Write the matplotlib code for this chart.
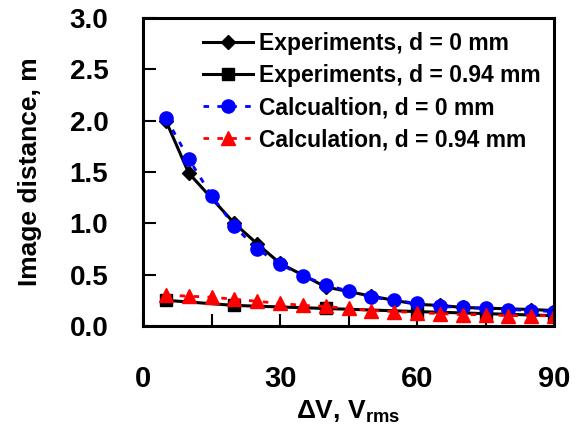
import matplotlib.pyplot as plt
from matplotlib.ticker import MultipleLocator

plt.rcParams['font.family'] = ['Liberation Sans', 'DejaVu Sans']
plt.rcParams['font.weight'] = 'bold'
plt.rcParams['mathtext.fontset'] = 'custom'
plt.rcParams['mathtext.rm'] = 'Liberation Sans:bold'
plt.rcParams['mathtext.bf'] = 'Liberation Sans:bold'

# Experiments, d = 0 mm
exp0_x = [5, 10, 20, 25, 30, 40, 50, 60, 65, 70, 85, 90]
exp0_y = [2.00, 1.49, 1.00, 0.80, 0.61, 0.38, 0.29, 0.21, 0.20, 0.18, 0.16, 0.15]

# Experiments, d = 0.94 mm
exp94_x = [5, 20, 40, 60, 75, 90]
exp94_y = [0.25, 0.20, 0.17, 0.14, 0.12, 0.10]

# Calculation, d = 0 mm
calc0_x = [5, 10, 15, 20, 25, 30, 35, 40, 45, 50, 55, 60, 65, 70, 75, 80, 85, 90]
calc0_y = [2.03, 1.63, 1.27, 0.97, 0.75, 0.60, 0.49, 0.40, 0.34, 0.28, 0.25, 0.22,
           0.19, 0.18, 0.17, 0.16, 0.15, 0.14]

# Calculation, d = 0.94 mm
calc94_x = [5, 10, 15, 20, 25, 30, 35, 40, 45, 50, 55, 60, 65, 70, 75, 80, 85, 90]
calc94_y = [0.30, 0.29, 0.28, 0.26, 0.24, 0.22, 0.20, 0.19, 0.17, 0.15, 0.14, 0.13,
            0.12, 0.11, 0.11, 0.10, 0.10, 0.10]

fig = plt.figure(figsize=(5.79, 4.30), dpi=100)
ax = fig.add_axes([0.247, 0.242, 0.710, 0.716])

ax.plot(exp0_x, exp0_y, color='black', lw=2.2, marker='D', ms=7,
        label='Experiments, d = 0 mm')
ax.plot(exp94_x, exp94_y, color='black', lw=2.2, marker='s', ms=8,
        label='Experiments, d = 0.94 mm')
ax.plot(calc0_x, calc0_y, color='#0000ff', lw=2, ls=(0, (2, 3)), marker='o', ms=9.5,
        label='Calcualtion, d = 0 mm')
ax.plot(calc94_x, calc94_y, color='#ff0000', lw=2, ls=(0, (2, 3)), marker='^', ms=10,
        label='Calculation, d = 0.94 mm')

ax.set_xlim(0, 90)
ax.set_ylim(0, 3.0)
ax.xaxis.set_major_locator(MultipleLocator(30))
ax.xaxis.set_minor_locator(MultipleLocator(15))
ax.yaxis.set_major_locator(MultipleLocator(0.5))
ax.yaxis.set_major_formatter(plt.FormatStrFormatter('%.1f'))

for s in ax.spines.values():
    s.set_linewidth(2.2)
ax.tick_params(axis='both', which='both', direction='in', length=9, width=1.5)
ax.tick_params(axis='x', which='both', pad=28, labelsize=21)
ax.tick_params(axis='y', which='both', pad=25, labelsize=20)

ax.set_xlabel(r'$\Delta$V, V$_{\mathrm{rms}}$', fontsize=19, fontweight='bold', labelpad=4)
ax.set_ylabel('Image distance, m', fontsize=19, fontweight='bold', labelpad=20)

ax.legend(loc='upper right', bbox_to_anchor=(1.0, 1.0), frameon=False,
          fontsize=16.5, handlelength=2.2, handletextpad=0.25, labelspacing=0.4,
          borderaxespad=0.2)

fig.savefig('out.png', dpi=100)
